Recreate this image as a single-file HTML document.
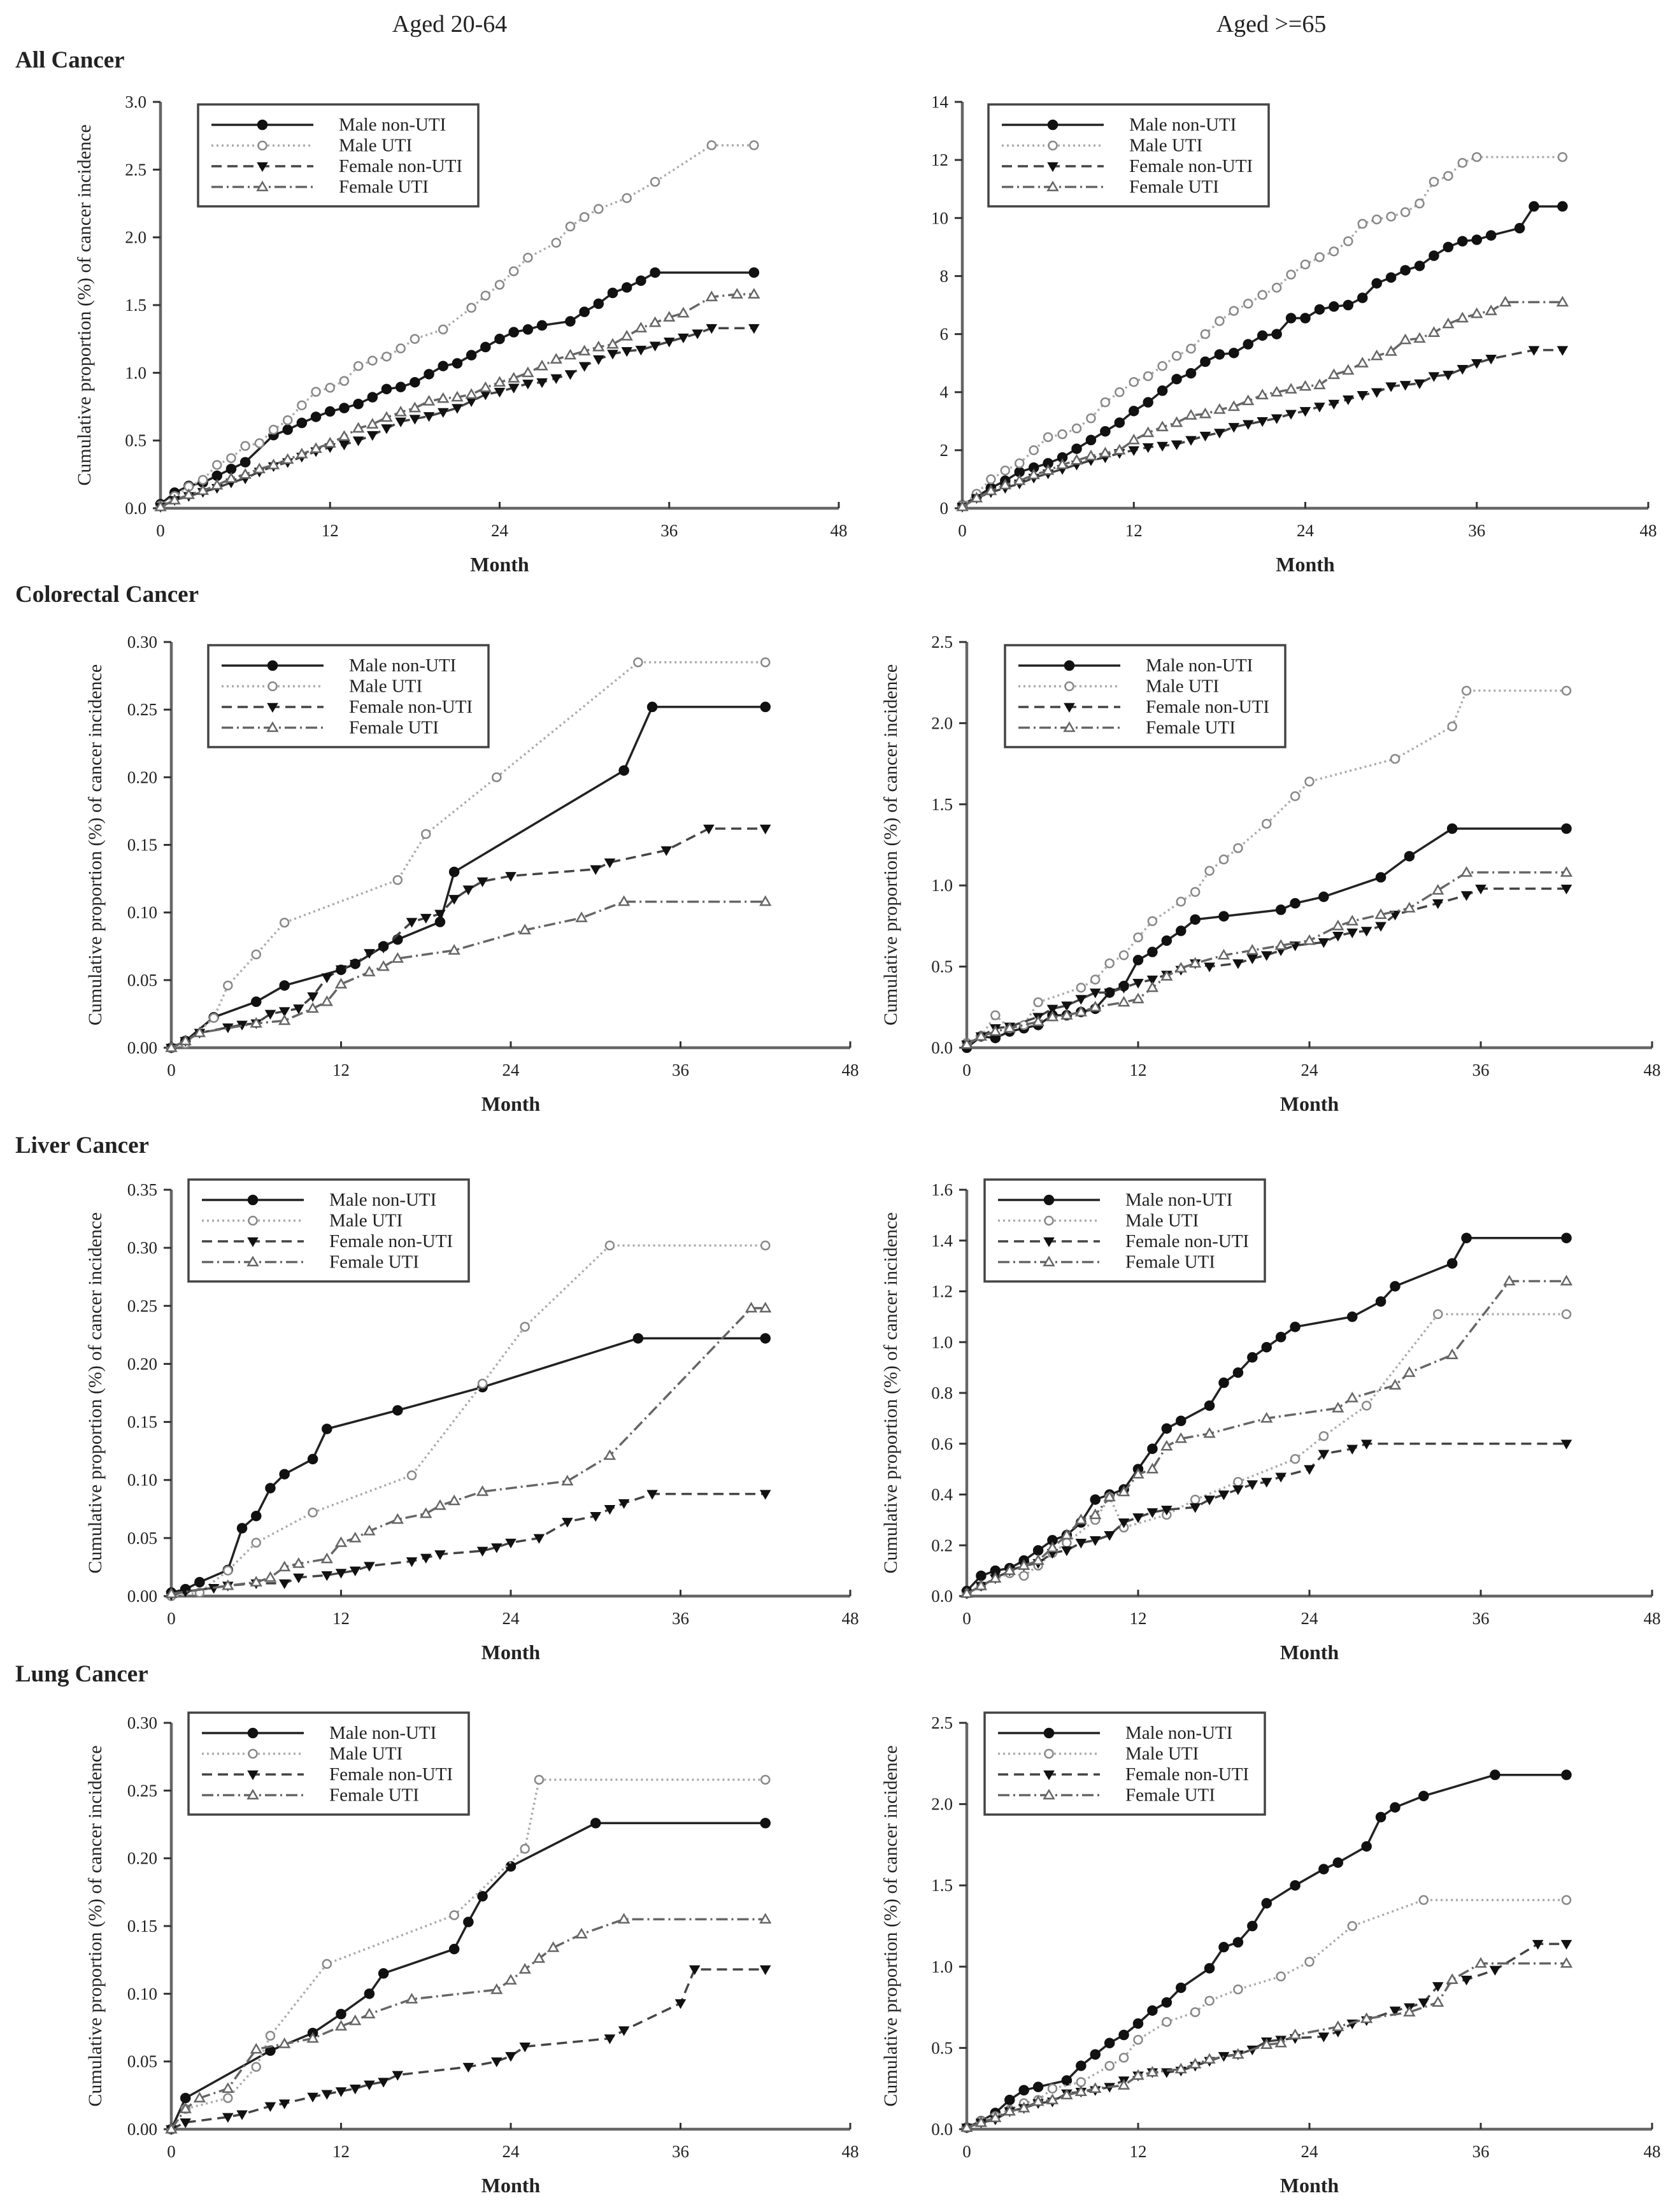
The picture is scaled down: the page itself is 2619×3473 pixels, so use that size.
<!DOCTYPE html>
<html><head><meta charset="utf-8">
<style>
html,body{margin:0;padding:0;background:#fff;}
svg{display:block;}
text{font-family:"Liberation Serif","DejaVu Serif",serif;fill:#222;}
</style></head>
<body>
<svg id="fig" xmlns="http://www.w3.org/2000/svg" width="2619" height="3473" viewBox="0 0 2619 3473">
<rect width="2619" height="3473" fill="#fff"/>
<text x="706" y="50" font-size="38" text-anchor="middle">Aged 20-64</text>
<text x="1996" y="50" font-size="38" text-anchor="middle">Aged &gt;=65</text>
<text x="24" y="106" font-size="37" font-weight="bold">All Cancer</text>
<text x="24" y="945" font-size="37" font-weight="bold">Colorectal Cancer</text>
<text x="24" y="1810" font-size="37" font-weight="bold">Liver Cancer</text>
<text x="24" y="2640" font-size="37" font-weight="bold">Lung Cancer</text>
</svg>
<script>
// ---- Data (month, cumulative %) ----
const seriesNames = ["Male non-UTI","Male UTI","Female non-UTI","Female UTI"];
const xTicks = [0,12,24,36,48];

const allYoungMaleNon = [[0,0.03],[1,0.115],[2,0.165],[3,0.19],[4,0.24],[5,0.29],[6,0.34],[8,0.54],[9,0.58],[10,0.63],[11,0.675],[12,0.715],[13,0.74],[14,0.77],[15,0.82],[16,0.88],[17,0.895],[18,0.93],[19,0.99],[20,1.05],[21,1.07],[22,1.13],[23,1.19],[24,1.25],[25,1.30],[26,1.32],[27,1.35],[29,1.38],[30,1.45],[31,1.51],[32,1.59],[33,1.63],[34,1.68],[35,1.74],[42,1.74]];
const allYoungMaleUti = [[0,0.02],[1,0.09],[2,0.16],[3,0.21],[4,0.32],[5,0.37],[6,0.46],[7,0.48],[8,0.58],[9,0.65],[10,0.76],[11,0.86],[12,0.89],[13,0.94],[14,1.05],[15,1.09],[16,1.12],[17,1.18],[18,1.25],[20,1.32],[22,1.48],[23,1.57],[24,1.65],[25,1.75],[26,1.85],[28,1.96],[29,2.08],[30,2.15],[31,2.21],[33,2.29],[35,2.41],[39,2.68],[42,2.68]];
const allYoungFemNon = [[0,0.01],[1,0.06],[2,0.09],[3,0.12],[4,0.15],[5,0.19],[6,0.22],[7,0.27],[8,0.31],[9,0.34],[10,0.38],[11,0.42],[12,0.45],[13,0.47],[14,0.50],[15,0.54],[16,0.59],[17,0.64],[18,0.66],[19,0.68],[20,0.71],[21,0.74],[22,0.79],[23,0.84],[24,0.86],[25,0.89],[26,0.92],[27,0.93],[28,0.96],[29,0.99],[30,1.05],[31,1.10],[32,1.14],[33,1.16],[34,1.17],[35,1.20],[36,1.23],[37,1.26],[38,1.29],[39,1.33],[42,1.33]];
const allYoungFemUti = [[0,0.01],[1,0.06],[2,0.10],[3,0.13],[4,0.17],[5,0.22],[6,0.25],[7,0.29],[8,0.32],[9,0.36],[10,0.40],[11,0.44],[12,0.48],[13,0.53],[14,0.59],[15,0.62],[16,0.67],[17,0.71],[18,0.74],[19,0.79],[20,0.81],[21,0.82],[22,0.84],[23,0.89],[24,0.93],[25,0.96],[26,1.00],[27,1.05],[28,1.10],[29,1.13],[30,1.16],[31,1.19],[32,1.21],[33,1.27],[34,1.33],[35,1.37],[36,1.41],[37,1.44],[39,1.56],[40.8,1.58],[42,1.58]];

const allOldMaleNon = [[0,0.1],[1,0.4],[2,0.7],[3,0.95],[4,1.25],[5,1.4],[6,1.55],[7,1.75],[8,2.05],[9,2.35],[10,2.65],[11,2.95],[12,3.35],[13,3.65],[14,4.05],[15,4.45],[16,4.65],[17,5.05],[18,5.3],[19,5.35],[20,5.65],[21,5.95],[22,6.0],[23,6.55],[24,6.55],[25,6.85],[26,6.95],[27,7.0],[28,7.25],[29,7.75],[30,7.95],[31,8.2],[32,8.35],[33,8.7],[34,9.0],[35,9.2],[36,9.25],[37,9.4],[39,9.65],[40,10.4],[42,10.4]];
const allOldMaleUti = [[0,0.1],[1,0.5],[2,1.0],[3,1.3],[4,1.55],[5,2.0],[6,2.45],[7,2.55],[8,2.75],[9,3.1],[10,3.65],[11,4.0],[12,4.35],[13,4.55],[14,4.9],[15,5.25],[16,5.5],[17,6.0],[18,6.45],[19,6.8],[20,7.05],[21,7.35],[22,7.6],[23,8.05],[24,8.4],[25,8.65],[26,8.85],[27,9.2],[28,9.8],[29,9.95],[30,10.05],[31,10.2],[32,10.5],[33,11.25],[34,11.45],[35,11.9],[36,12.1],[42,12.1]];
const allOldFemNon = [[0,0.05],[1,0.35],[2,0.55],[3,0.7],[4,0.85],[5,1.05],[6,1.2],[7,1.35],[8,1.5],[9,1.65],[10,1.75],[11,1.9],[12,2.0],[13,2.1],[14,2.15],[15,2.2],[16,2.35],[17,2.5],[18,2.6],[19,2.8],[20,2.9],[21,3.0],[22,3.1],[23,3.25],[24,3.35],[25,3.5],[26,3.6],[27,3.75],[28,3.9],[29,4.0],[30,4.2],[31,4.25],[32,4.3],[33,4.55],[34,4.6],[35,4.8],[36,5.0],[37,5.15],[40,5.45],[42,5.45]];
const allOldFemUti = [[0,0.05],[1,0.35],[2,0.6],[3,0.8],[4,0.95],[5,1.15],[6,1.3],[7,1.5],[8,1.65],[9,1.8],[10,1.9],[11,2.0],[12,2.35],[13,2.6],[14,2.8],[15,2.95],[16,3.2],[17,3.25],[18,3.4],[19,3.5],[20,3.7],[21,3.9],[22,4.0],[23,4.1],[24,4.2],[25,4.25],[26,4.6],[27,4.75],[28,5.0],[29,5.25],[30,5.4],[31,5.8],[32,5.85],[33,6.05],[34,6.35],[35,6.55],[36,6.7],[37,6.8],[38,7.1],[42,7.1]];

const crcYoungMaleNon = [[0,0],[1,0.005],[3,0.0225],[6,0.034],[8,0.046],[12,0.0576],[13,0.062],[15,0.075],[16,0.08],[19,0.093],[20,0.130],[32,0.205],[34,0.252],[42,0.252]];
const crcYoungMaleUti = [[0,0],[1,0.003],[3,0.022],[4,0.046],[6,0.069],[8,0.0925],[16,0.124],[18,0.158],[23,0.200],[33,0.285],[42,0.285]];
const crcYoungFemNon = [[0,0],[1,0.005],[2,0.011],[4,0.015],[5,0.017],[6,0.018],[7,0.025],[8,0.027],[9,0.029],[10,0.038],[11,0.052],[12,0.058],[13,0.062],[14,0.07],[15,0.074],[17,0.093],[18,0.096],[19,0.099],[20,0.11],[21,0.117],[22,0.123],[24,0.127],[30,0.132],[31,0.137],[35,0.146],[38,0.162],[42,0.162]];
const crcYoungFemUti = [[0,0],[1,0.005],[2,0.011],[6,0.018],[8,0.02],[10,0.029],[11,0.034],[12,0.047],[14,0.056],[15,0.06],[16,0.066],[20,0.072],[25,0.087],[29,0.096],[32,0.108],[42,0.108]];

const crcOldMaleNon = [[0,0.0],[1,0.07],[2,0.06],[3,0.1],[4,0.12],[5,0.14],[6,0.2],[7,0.2],[8,0.22],[9,0.24],[10,0.34],[11,0.38],[12,0.54],[13,0.59],[14,0.66],[15,0.72],[16,0.79],[18,0.81],[22,0.85],[23,0.89],[25,0.93],[29,1.05],[31,1.18],[34,1.35],[42,1.35]];
const crcOldMaleUti = [[0,0.03],[1,0.07],[2,0.2],[3,0.12],[4,0.14],[5,0.28],[8,0.37],[9,0.42],[10,0.52],[11,0.57],[12,0.68],[13,0.78],[15,0.9],[16,0.96],[17,1.09],[18,1.16],[19,1.23],[21,1.38],[23,1.55],[24,1.64],[30,1.78],[34,1.98],[35,2.2],[42,2.2]];
const crcOldFemNon = [[0,0.02],[1,0.07],[2,0.12],[3,0.13],[5,0.19],[6,0.24],[7,0.26],[8,0.3],[9,0.34],[10,0.34],[11,0.37],[12,0.4],[13,0.42],[14,0.45],[15,0.48],[16,0.52],[17,0.5],[19,0.52],[20,0.55],[21,0.57],[22,0.6],[23,0.63],[25,0.65],[26,0.69],[27,0.71],[28,0.72],[29,0.75],[30,0.82],[33,0.89],[35,0.94],[36,0.98],[42,0.98]];
const crcOldFemUti = [[0,0.02],[1,0.07],[2,0.1],[3,0.12],[5,0.16],[6,0.19],[7,0.2],[8,0.22],[9,0.25],[11,0.28],[12,0.3],[13,0.37],[14,0.44],[15,0.49],[16,0.52],[18,0.57],[20,0.6],[22,0.63],[24,0.66],[26,0.75],[27,0.78],[29,0.82],[31,0.86],[33,0.97],[35,1.08],[42,1.08]];

const livYoungMaleNon = [[0,0.003],[1,0.006],[2,0.012],[4,0.0225],[5,0.0585],[6,0.069],[7,0.093],[8,0.105],[10,0.118],[11,0.144],[16,0.16],[22,0.18],[33,0.222],[42,0.222]];
const livYoungMaleUti = [[0,0],[2,0.003],[4,0.022],[6,0.046],[10,0.072],[17,0.104],[22,0.183],[25,0.232],[31,0.302],[42,0.302]];
const livYoungFemNon = [[0,0.001],[1,0.004],[3,0.007],[4,0.009],[6,0.011],[8,0.011],[9,0.016],[11,0.018],[12,0.02],[13,0.022],[14,0.026],[17,0.03],[18,0.033],[19,0.036],[22,0.039],[23,0.042],[24,0.046],[26,0.05],[28,0.064],[30,0.069],[31,0.075],[32,0.08],[34,0.088],[42,0.088]];
const livYoungFemUti = [[0,0.002],[4,0.009],[6,0.012],[7,0.016],[8,0.025],[9,0.028],[11,0.032],[12,0.046],[13,0.05],[14,0.056],[16,0.066],[18,0.071],[19,0.078],[20,0.082],[22,0.09],[28,0.099],[31,0.121],[41,0.248],[42,0.248]];

const livOldMaleNon = [[0,0.02],[1,0.08],[2,0.1],[3,0.11],[4,0.14],[5,0.18],[6,0.22],[7,0.24],[8,0.29],[9,0.38],[10,0.4],[11,0.42],[12,0.5],[13,0.58],[14,0.66],[15,0.69],[17,0.75],[18,0.84],[19,0.88],[20,0.94],[21,0.98],[22,1.02],[23,1.06],[27,1.1],[29,1.16],[30,1.22],[34,1.31],[35,1.41],[42,1.41]];
const livOldMaleUti = [[0,0.01],[1,0.04],[3,0.09],[4,0.08],[5,0.12],[6,0.17],[7,0.21],[9,0.3],[10,0.39],[11,0.27],[14,0.32],[16,0.38],[19,0.45],[23,0.54],[25,0.63],[28,0.75],[33,1.11],[42,1.11]];
const livOldFemNon = [[0,0.01],[1,0.04],[2,0.07],[3,0.1],[4,0.12],[5,0.13],[6,0.17],[7,0.18],[8,0.21],[9,0.22],[10,0.24],[11,0.29],[12,0.31],[13,0.33],[14,0.34],[16,0.35],[17,0.38],[18,0.4],[19,0.42],[20,0.44],[21,0.45],[22,0.47],[24,0.5],[25,0.56],[27,0.58],[28,0.6],[42,0.6]];
const livOldFemUti = [[0,0.01],[1,0.04],[2,0.07],[3,0.1],[4,0.12],[5,0.14],[6,0.19],[7,0.24],[8,0.3],[9,0.32],[10,0.39],[11,0.41],[12,0.48],[13,0.5],[14,0.59],[15,0.62],[17,0.64],[21,0.7],[26,0.74],[27,0.78],[30,0.83],[31,0.88],[34,0.95],[38,1.24],[42,1.24]];

const lngYoungMaleNon = [[0,0],[1,0.023],[7,0.058],[10,0.071],[12,0.085],[14,0.1],[15,0.115],[20,0.133],[21,0.153],[22,0.172],[24,0.194],[30,0.226],[42,0.226]];
const lngYoungMaleUti = [[0,0],[1,0.015],[4,0.023],[6,0.046],[7,0.069],[11,0.122],[20,0.158],[25,0.207],[26,0.258],[42,0.258]];
const lngYoungFemNon = [[0,0],[1,0.005],[4,0.009],[5,0.011],[7,0.017],[8,0.019],[10,0.024],[11,0.026],[12,0.028],[13,0.03],[14,0.033],[15,0.035],[16,0.04],[21,0.046],[23,0.05],[24,0.054],[25,0.061],[31,0.067],[32,0.073],[36,0.093],[37,0.118],[42,0.118]];
const lngYoungFemUti = [[0,0],[1,0.015],[2,0.023],[4,0.03],[6,0.059],[8,0.063],[10,0.067],[12,0.076],[13,0.08],[14,0.085],[17,0.096],[23,0.103],[24,0.11],[25,0.118],[26,0.126],[27,0.134],[29,0.144],[32,0.155],[42,0.155]];

const lngOldMaleNon = [[0,0.01],[1,0.05],[2,0.1],[3,0.18],[4,0.24],[5,0.26],[7,0.3],[8,0.39],[9,0.46],[10,0.53],[11,0.58],[12,0.65],[13,0.73],[14,0.78],[15,0.87],[17,0.99],[18,1.12],[19,1.15],[20,1.25],[21,1.39],[23,1.5],[25,1.6],[26,1.64],[28,1.74],[29,1.92],[30,1.98],[32,2.05],[37,2.18],[42,2.18]];
const lngOldMaleUti = [[0,0.01],[1,0.05],[2,0.08],[3,0.12],[4,0.16],[5,0.18],[6,0.25],[8,0.29],[10,0.39],[11,0.44],[12,0.55],[14,0.66],[16,0.72],[17,0.79],[19,0.86],[22,0.94],[24,1.03],[27,1.25],[32,1.41],[42,1.41]];
const lngOldFemNon = [[0,0.01],[1,0.04],[2,0.06],[3,0.11],[4,0.13],[5,0.16],[6,0.17],[7,0.22],[8,0.23],[9,0.24],[10,0.26],[11,0.3],[12,0.33],[13,0.35],[14,0.35],[15,0.36],[16,0.39],[17,0.42],[18,0.45],[19,0.46],[20,0.49],[21,0.54],[22,0.55],[23,0.56],[25,0.57],[26,0.6],[27,0.65],[28,0.67],[30,0.73],[31,0.75],[32,0.78],[33,0.88],[35,0.92],[37,0.98],[40,1.14],[42,1.14]];
const lngOldFemUti = [[0,0.01],[1,0.04],[2,0.07],[3,0.11],[4,0.13],[5,0.17],[6,0.18],[7,0.21],[8,0.23],[9,0.25],[11,0.27],[12,0.33],[13,0.35],[15,0.37],[16,0.4],[17,0.43],[19,0.46],[21,0.52],[22,0.53],[23,0.58],[26,0.63],[28,0.68],[31,0.72],[33,0.78],[34,0.92],[36,1.02],[42,1.02]];

const yTicksAllYoung = ["0.0","0.5","1.0","1.5","2.0","2.5","3.0"];
const yTicksAllOld = ["0","2","4","6","8","10","12","14"];
const yTicksSmall30 = ["0.00","0.05","0.10","0.15","0.20","0.25","0.30"];
const yTicksSmall35 = ["0.00","0.05","0.10","0.15","0.20","0.25","0.30","0.35"];
const yTicks25 = ["0.0","0.5","1.0","1.5","2.0","2.5"];
const yTicks16 = ["0.0","0.2","0.4","0.6","0.8","1.0","1.2","1.4","1.6"];

// ---- Layout ----
const NS = "http://www.w3.org/2000/svg";
const svg = document.getElementById('fig');
const styles = [
  {stroke:"#222", dash:"", w:3.5, marker:"dot", fill:"#111", mstroke:"#111"},
  {stroke:"#aaa", dash:"3 5", w:3.5, marker:"circle", fill:"#fff", mstroke:"#888"},
  {stroke:"#444", dash:"16 9", w:3.5, marker:"tridown", fill:"#111", mstroke:"#111"},
  {stroke:"#666", dash:"18 6 3 6", w:3.5, marker:"triup", fill:"#fff", mstroke:"#666"}
];
function el(tag, attrs, parent){
  const e = document.createElementNS(NS, tag);
  for (const k in attrs) e.setAttribute(k, attrs[k]);
  (parent||svg).appendChild(e);
  return e;
}
function marker(g, kind, cx, cy, st){
  let m;
  if (kind==="dot"||kind==="circle"){
    m = el('circle',{cx:cx,cy:cy,r:kind==="dot"?7:6.5,fill:st.fill,stroke:st.mstroke,'stroke-width':2.5},g);
  } else if (kind==="tridown"){
    m = el('polygon',{points:`${cx-7.5},${cy-5.5} ${cx+7.5},${cy-5.5} ${cx},${cy+7.5}`,fill:st.fill,stroke:st.mstroke,'stroke-width':1.5},g);
  } else {
    m = el('polygon',{points:`${cx-7.5},${cy+5.5} ${cx+7.5},${cy+5.5} ${cx},${cy-7.5}`,fill:st.fill,stroke:st.mstroke,'stroke-width':2.5},g);
  }
  
  
  return m;
}

const panels = [
  {id:"all-cancer-20-64", x0:252, x48:1317, y0:798, yt:160, ymax:3.0, ticks:yTicksAllYoung, data:[allYoungMaleNon,allYoungMaleUti,allYoungFemNon,allYoungFemUti], leg:[311,164], ytitle:true},
  {id:"all-cancer-65", x0:1511, x48:2588, y0:798, yt:160, ymax:14, ticks:yTicksAllOld, data:[allOldMaleNon,allOldMaleUti,allOldFemNon,allOldFemUti], leg:[1552,164], ytitle:false},
  {id:"colorectal-20-64", x0:269, x48:1335, y0:1645, yt:1008, ymax:0.30, ticks:yTicksSmall30, data:[crcYoungMaleNon,crcYoungMaleUti,crcYoungFemNon,crcYoungFemUti], leg:[327,1013], ytitle:true},
  {id:"colorectal-65", x0:1518, x48:2594, y0:1645, yt:1008, ymax:2.5, ticks:yTicks25, data:[crcOldMaleNon,crcOldMaleUti,crcOldFemNon,crcOldFemUti], leg:[1578,1013], ytitle:true},
  {id:"liver-20-64", x0:269, x48:1335, y0:2506, yt:1868, ymax:0.35, ticks:yTicksSmall35, data:[livYoungMaleNon,livYoungMaleUti,livYoungFemNon,livYoungFemUti], leg:[296,1852], ytitle:true},
  {id:"liver-65", x0:1518, x48:2594, y0:2506, yt:1868, ymax:1.6, ticks:yTicks16, data:[livOldMaleNon,livOldMaleUti,livOldFemNon,livOldFemUti], leg:[1546,1852], ytitle:true},
  {id:"lung-20-64", x0:269, x48:1335, y0:3343, yt:2705, ymax:0.30, ticks:yTicksSmall30, data:[lngYoungMaleNon,lngYoungMaleUti,lngYoungFemNon,lngYoungFemUti], leg:[296,2689], ytitle:true},
  {id:"lung-65", x0:1518, x48:2594, y0:3343, yt:2705, ymax:2.5, ticks:yTicks25, data:[lngOldMaleNon,lngOldMaleUti,lngOldFemNon,lngOldFemUti], leg:[1546,2689], ytitle:true}
];

panels.forEach(p=>{
  const g = el('g',{});
  
  
  const sx = m => p.x0 + (p.x48-p.x0)*m/48;
  const sy = v => p.y0 - (p.y0-p.yt)*v/p.ymax;
  const ya = el('line',{x1:p.x0,y1:p.y0,x2:p.x0,y2:p.yt,stroke:"#666",'stroke-width':4.5},g);
  
  
  const xa = el('line',{x1:p.x0,y1:p.y0,x2:p.x48,y2:p.y0,stroke:"#666",'stroke-width':4.5},g);
  
  
  p.ticks.forEach((t,i)=>{
    const v = p.ymax*i/(p.ticks.length-1);
    const y = sy(v);
    el('line',{x1:p.x0-12,y1:y,x2:p.x0,y2:y,stroke:"#333",'stroke-width':3},g);
    const tx = el('text',{x:p.x0-22,y:y+9,'font-size':27,'text-anchor':'end',fill:'#333'},g);
    tx.textContent = t;
    
    
  });
  xTicks.forEach(m=>{
    const x = sx(m);
    el('line',{x1:x,y1:p.y0,x2:x,y2:p.y0-10,stroke:"#333",'stroke-width':3},g);
    const tx = el('text',{x:x,y:p.y0+44,'font-size':27,'text-anchor':'middle',fill:'#333'},g);
    tx.textContent = String(m);
    
    
  });
  const xt = el('text',{x:(p.x0+p.x48)/2,y:p.y0+99,'font-size':32,'font-weight':'bold','text-anchor':'middle',fill:'#222'},g);
  xt.textContent = "Month";
  
  
  if (p.ytitle){
    const cy = (p.y0+p.yt)/2;
    const cx = p.x0-110;
    const yt = el('text',{x:cx,y:cy,'font-size':30,'text-anchor':'middle',transform:`rotate(-90 ${cx} ${cy})`,fill:'#222'},g);
    yt.textContent = "Cumulative proportion (%) of cancer incidence";
    
    
  }
  p.data.forEach((ser,si)=>{
    const st = styles[si];
    const sg = el('g',{},g);
    
    
    const pts = ser.map(d=>sx(d[0]).toFixed(1)+","+sy(d[1]).toFixed(1)).join(" ");
    const pl = el('polyline',{points:pts,fill:'none',stroke:st.stroke,'stroke-width':st.w,'stroke-dasharray':st.dash,'stroke-linejoin':'round'},sg);
    
    
    ser.forEach(d=>marker(sg, st.marker, sx(d[0]), sy(d[1]), st));
  });
  const lx = p.leg[0], ly = p.leg[1];
  const lg = el('g',{},g);
  
  
  el('rect',{x:lx,y:ly,width:440,height:160,fill:'#fff',stroke:'#444','stroke-width':3.5},lg);
  seriesNames.forEach((n,si)=>{
    const st = styles[si];
    const ry = ly + 32 + si*32.5;
    const le = el('g',{},lg);
    
    
    el('line',{x1:lx+21,y1:ry,x2:lx+181,y2:ry,stroke:st.stroke,'stroke-width':st.w,'stroke-dasharray':st.dash},le);
    marker(le, st.marker, lx+101, ry, st);
    const t = el('text',{x:lx+221,y:ry+9,'font-size':29,fill:'#222'},le);
    t.textContent = n;
  });
});
</script>
</body></html>
